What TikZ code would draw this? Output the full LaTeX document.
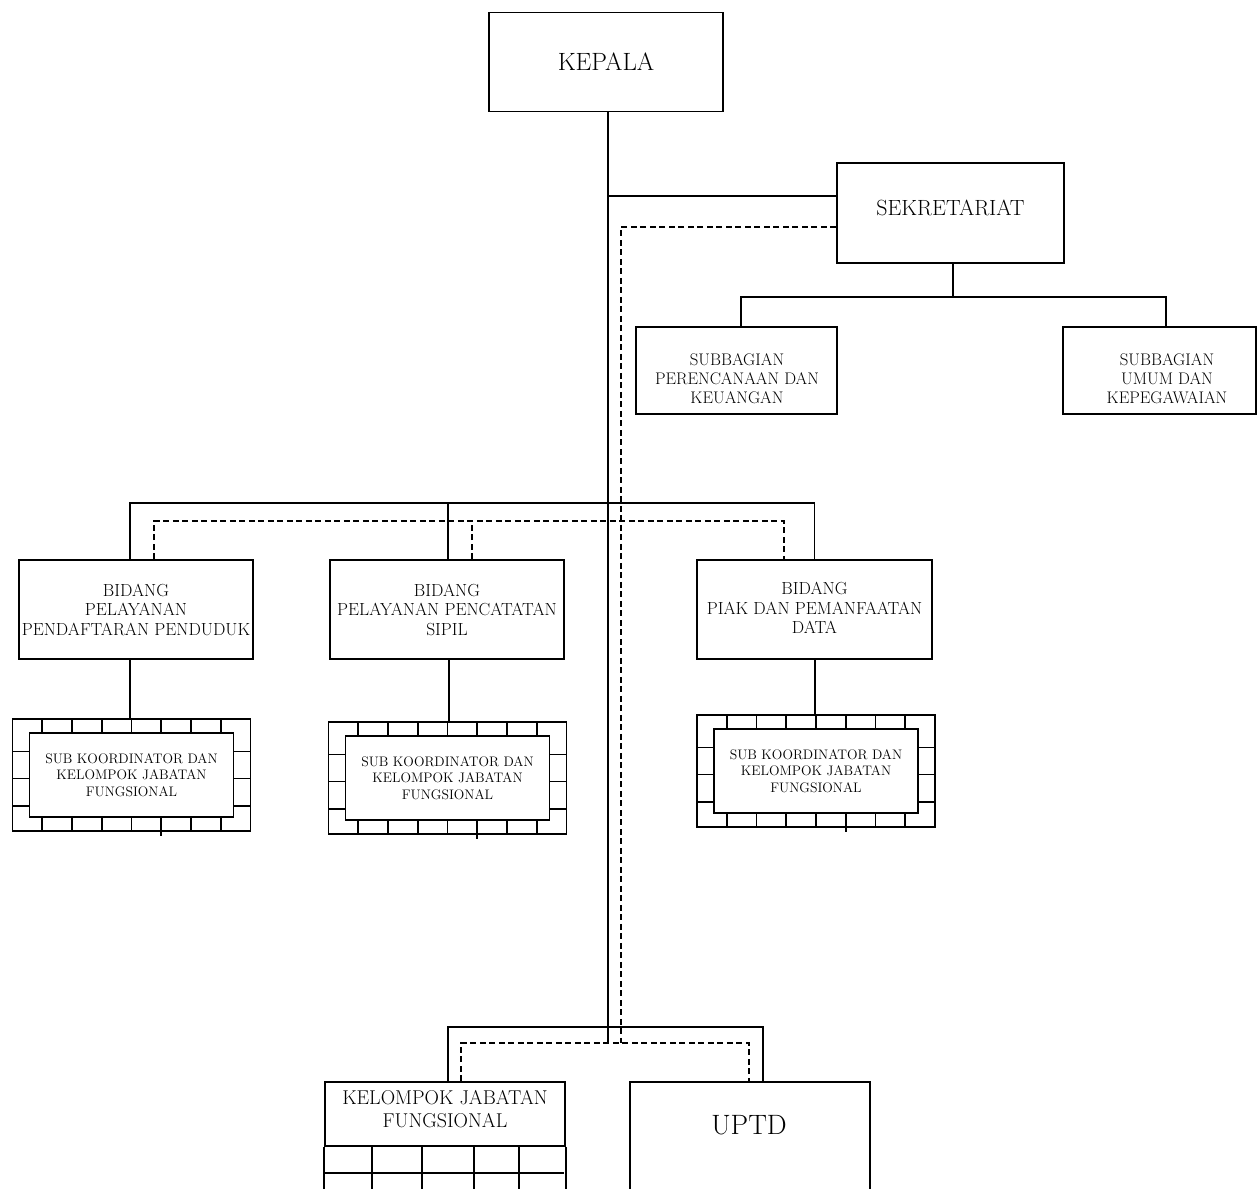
\documentclass[tikz,border=0pt]{standalone}
\usepackage{fontspec}
\usetikzlibrary{calc}

% Framed box with a brick border: #1 name, #2 centre x, #3 top y, #4 text
\newcommand\brickframe[4]{%
  \begin{scope}[shift={(#2,#3)}]
    \node[brickouter] (#1) at (0,56) {};
    \node[brickinner, smalltext] (#1in) at (0,56) {#4};
    \foreach \k in {1,...,7} {
      \draw[brick] (-119+29.75*\k,0) -- ++(0,14);
      \draw[brick] (-119+29.75*\k,112) -- ++(0,-14);
    }
    \foreach \v in {32.5,59.5,87} {
      \draw[brick] (-119,\v) -- (-102,\v);
      \draw[brick] (119,\v) -- (102,\v);
    }
    \draw[brick] (-119+29.75*5,112) -- ++(0,5);
  \end{scope}}

\begin{document}
\begin{tikzpicture}[x=1pt,y=-1pt,
  box/.style={draw, line width=1.8pt, inner sep=0pt, align=center},
  conn/.style={line width=1.7pt},
  dashconn/.style={line width=1.7pt, dash pattern=on 6pt off 3.5pt},
  brick/.style={line width=1.7pt},
  brickouter/.style={draw, line width=1.9pt, inner sep=0pt, minimum width=238pt, minimum height=112pt},
  brickinner/.style={draw, line width=1.9pt, inner sep=0pt, align=center, minimum width=204pt, minimum height=84pt},
  kepalatext/.style={font=\fontsize{25}{28}\selectfont},
  sektext/.style={font=\fontsize{22}{26}\selectfont},
  hugetext/.style={font=\fontsize{28}{32}\selectfont},
  midtext/.style={font=\fontsize{17.5}{19.5}\selectfont},
  subtext/.style={font=\fontsize{16.8}{19}\selectfont},
  kjftext/.style={font=\fontsize{20}{22.5}\selectfont},
  smalltext/.style={font=\fontsize{13.8}{16.5}\selectfont}]

\useasboundingbox (0,0) rectangle (1257,1188);
\clip (0,0) rectangle (1257,1188);
\fill[white] (0,0) rectangle (1257,1188);

% top level
\node[box, kepalatext, minimum width=234pt, minimum height=99pt] (kepala) at (606,62) {KEPALA};
\node[box, minimum width=227pt, minimum height=100pt] (sek) at (950.5,213) {};
\node[sektext] (sektxt) at (950.5,208) {SEKRETARIAT};

% sub-sections of the secretariat
\node[box, minimum width=201pt, minimum height=87pt] (sub1) at (736.5,370.5) {};
\node[subtext, align=center] (sub1txt) at (737,379) {SUBBAGIAN\\PERENCANAAN DAN\\KEUANGAN};
\node[box, minimum width=193pt, minimum height=87pt] (sub2) at (1159.5,370.5) {};
\node[subtext, align=center] (sub2txt) at (1167,379) {SUBBAGIAN\\UMUM DAN\\KEPEGAWAIAN};

% divisions
\node[box, midtext, minimum width=234pt, minimum height=99pt] (bid1) at (136,609.5) {BIDANG\\PELAYANAN\\PENDAFTARAN PENDUDUK};
\node[box, midtext, minimum width=234pt, minimum height=99pt] (bid2) at (447,609.5) {BIDANG\\PELAYANAN PENCATATAN\\SIPIL};
\node[box, minimum width=235pt, minimum height=99pt] (bid3) at (814.5,609.5) {};
\node[midtext, align=center] (bid3txt) at (814.5,608) {BIDANG\\PIAK DAN PEMANFAATAN\\DATA};

% coordinator groups
\brickframe{sk1}{131.5}{719}{SUB KOORDINATOR DAN\\KELOMPOK JABATAN\\FUNGSIONAL}
\brickframe{sk2}{447.5}{722}{SUB KOORDINATOR DAN\\KELOMPOK JABATAN\\FUNGSIONAL}
\brickframe{sk3}{816}{715}{SUB KOORDINATOR DAN\\KELOMPOK JABATAN\\FUNGSIONAL}

% functional group and technical unit
\node[box, minimum width=240pt, minimum height=64pt] (kjf) at (445,1114) {};
\node[kjftext, align=center] (kjftxt) at (445,1109) {KELOMPOK JABATAN\\FUNGSIONAL};
\draw[box] (kjf.south west) -- ++(0,60) (kjf.south east) -- ++(0,60);
\draw[brick] (kjf.south west) ++(0,26) -- ++(240,0);
\foreach \gx in {372,422,474,519} \draw[brick] (\gx,1146) -- (\gx,1200);
\node[box, minimum width=240pt, minimum height=136pt] (uptd) at (750,1150) {};
\node[hugetext] (uptdtxt) at (749,1125) {UPTD};

% junction points
\coordinate (mainend) at (608,1043);
\coordinate (jsek) at (608,196);
\coordinate (dsek) at (621,227);
\coordinate (dend) at (621,1043);
\coordinate (subbus) at (953,297);
\coordinate (bbus) at (608,503);
\coordinate (dbus) at (621,521);
\coordinate (kbus) at (608,1027);

% solid lines of command
\draw[conn] (kepala.south -| mainend) -- (mainend);
\draw[conn] (jsek) -- (jsek -| sek.west);
\draw[conn] (sek.south -| subbus) -- (subbus);
\draw[conn] ([xshift=4.5pt]sub1.north) |- (subbus) -| ([xshift=6.5pt]sub2.north);
\draw[conn] ([xshift=-6pt]bid1.north) |- (bbus) -| (bid3.north);
\draw[conn] ([xshift=1pt]bid2.north) -- ([xshift=1pt]bid2.north |- bbus);
\draw[conn] ([xshift=-1.5pt]sk1.north |- bid1.south) -- ([xshift=-1.5pt]sk1.north);
\draw[conn] ([xshift=1.5pt]sk2.north |- bid2.south) -- ([xshift=1.5pt]sk2.north);
\draw[conn] ([xshift=-1pt]sk3.north |- bid3.south) -- ([xshift=-1pt]sk3.north);
\draw[conn] ([xshift=3pt]kjf.north) |- (kbus) -| ([xshift=13pt]uptd.north);

% dashed lines of coordination
\draw[dashconn] (dsek -| sek.west) -- (dsek) -- (dend);
\draw[dashconn] ([xshift=18pt]bid1.north) |- (dbus) -| ([xshift=-30.5pt]bid3.north);
\draw[dashconn] ([xshift=25pt]bid2.north) -- ([xshift=25pt]bid2.north |- dbus);
\draw[dashconn] ([xshift=16pt]kjf.north) |- (dend) -| ([xshift=-1pt]uptd.north);

\end{tikzpicture}
\end{document}
